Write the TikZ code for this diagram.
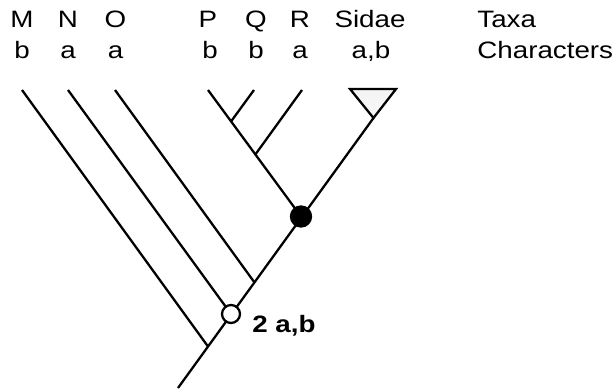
\documentclass[tikz,border=0pt]{standalone}
\usepackage{fontspec}
\setmainfont{Liberation Sans}[FakeStretch=1.17]
\usepackage{tkz-euclide}
\usetikzlibrary{calc}

\tikzset{
  branch/.style={line width=1.3pt},
  taxon/.style={anchor=base, inner sep=0pt, font=\fontsize{13.5}{16}\selectfont},
  legend/.style={taxon, anchor=base west}
}

\begin{document}
\begin{tikzpicture}

\useasboundingbox (0,0) rectangle (12.32,7.82);

\tkzDefPoint(3.56,0.06){root}
\tkzDefPoint(4.16,0.89){jM}
\tkzDefPoint(4.62,1.54){jN}
\tkzDefPoint(5.09,2.17){jO}
\tkzDefPoint(6.02,3.49){jP}
\tkzDefPoint(7.47,5.46){apex}
\tkzDefPoint(4.62,5.39){jQ}
\tkzDefPoint(5.10,4.72){jR}
\tkzDefPoint(0.44,6.02){M}
\tkzDefPoint(1.36,6.02){N}
\tkzDefPoint(2.30,6.02){O}
\tkzDefPoint(4.16,6.02){P}
\tkzDefPoint(5.08,6.02){Q}
\tkzDefPoint(6.04,6.02){R}
\tkzDefPoint(7.00,6.04){SL}
\tkzDefPoint(7.92,6.04){SR}

\draw[branch] (root) -- (apex);
\draw[branch] (M) -- (jM);
\draw[branch] (N) -- (jN);
\draw[branch] (O) -- (jO);
\draw[branch] (P) -- (jP);
\draw[branch] (Q) -- (jQ);
\draw[branch] (R) -- (jR);
\draw[branch, fill=gray!8, line join=miter] (apex) -- (SL) -- (SR) -- cycle;

\filldraw[branch, fill=white] (jN) circle (0.18);
\filldraw[branch, fill=black] (jP) circle (0.2);
\node[legend, font=\fontsize{13.5}{16}\selectfont\bfseries] (apo) at (5.04,1.16) {2 a,b};

\node[taxon] (tM) at (0.44,7.26) {M};
\node[taxon] (tN) at (1.36,7.26) {N};
\node[taxon] (tO) at (2.31,7.26) {O};
\node[taxon] (tP) at (4.16,7.26) {P};
\node[taxon] (tQ) at (5.12,7.26) {Q};
\node[taxon] (tR) at (6.00,7.26) {R};
\node[taxon] (tS) at (7.40,7.26) {Sidae};
\node[legend] (taxa) at (9.54,7.26) {Taxa};

\node[taxon] (cM) at (0.44,6.64) {b};
\node[taxon] (cN) at (1.36,6.64) {a};
\node[taxon] (cO) at (2.31,6.64) {a};
\node[taxon] (cP) at (4.20,6.64) {b};
\node[taxon] (cQ) at (5.12,6.64) {b};
\node[taxon] (cR) at (6.00,6.64) {a};
\node[taxon] (cS) at (7.42,6.64) {a,b};
\node[legend] (chars) at (9.54,6.64) {Characters};

\end{tikzpicture}
\end{document}
